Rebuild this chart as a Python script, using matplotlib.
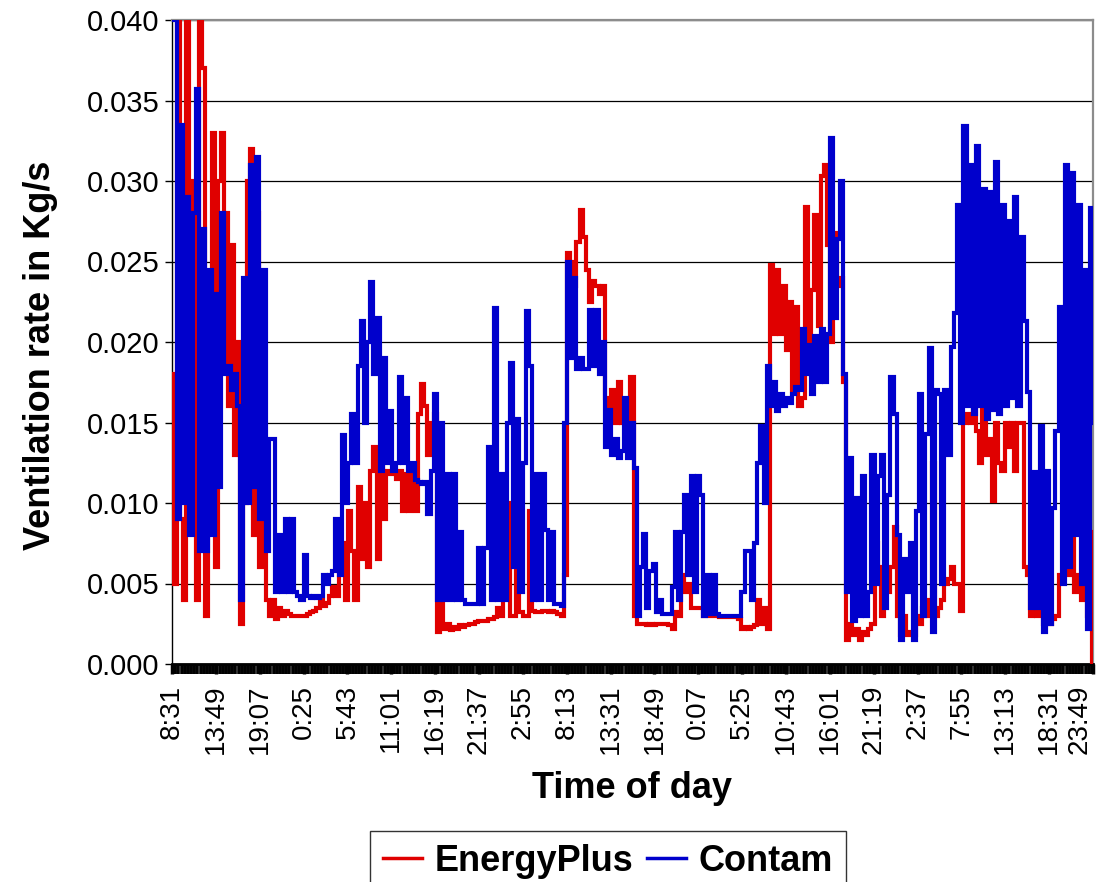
import numpy as np
import matplotlib
matplotlib.use("Agg")
import matplotlib.pyplot as plt
from matplotlib.ticker import FormatStrFormatter

plt.rcParams['font.family'] = ['Liberation Sans', 'DejaVu Sans']

# ---------------- data ----------------
step_minutes = 23          # sampling interval of the series (minutes)
span_minutes = 6678        # 8:31 day 1 -> 23:49 day 5

tick_labels = ['8:31', '13:49', '19:07', '0:25', '5:43', '11:01', '16:19', '21:37',
               '2:55', '8:13', '13:31', '18:49', '0:07', '5:25', '10:43', '16:01',
               '21:19', '2:37', '7:55', '13:13', '18:31', '23:49']
tick_spacing = 318         # minutes between labels

energyplus = [
    0.018, 0.005, 0.040, 0.009, 0.004, 0.040, 0.012, 0.030, 0.004, 0.040, 0.037, 0.003, 0.013, 0.033, 0.006, 0.030,
    0.033, 0.028, 0.016, 0.026, 0.013, 0.020, 0.0025, 0.010, 0.030, 0.032, 0.008, 0.028, 0.006, 0.013, 0.004, 0.003,
    0.0040, 0.0028, 0.0035, 0.0030, 0.0033, 0.0031, 0.0030, 0.0030, 0.0030, 0.0030, 0.0030, 0.0031, 0.0032, 0.0033, 0.0035, 0.0040,
    0.0036, 0.0038, 0.0042, 0.0048, 0.0042, 0.0060, 0.0075, 0.0040, 0.0095, 0.0070, 0.0040, 0.0110, 0.0065, 0.0100, 0.0060, 0.0120,
    0.0135, 0.0065, 0.0125, 0.0090, 0.0120, 0.0118, 0.0120, 0.0115, 0.0120, 0.0095, 0.0118, 0.0095, 0.0120, 0.0095, 0.0155, 0.0174,
    0.0160, 0.0130, 0.0150, 0.0155, 0.0020, 0.0070, 0.0022, 0.0025, 0.0021, 0.0023, 0.0022, 0.0024, 0.0023, 0.0024, 0.0025, 0.0025,
    0.0026, 0.0027, 0.0027, 0.0027, 0.0028, 0.0028, 0.0029, 0.0035, 0.0030, 0.0065, 0.0100, 0.0030, 0.0030, 0.0060, 0.0032, 0.0030,
    0.0030, 0.0095, 0.0033, 0.0032, 0.0032, 0.0033, 0.0033, 0.0032, 0.0033, 0.0032, 0.0031, 0.0030, 0.0055, 0.0255, 0.0250, 0.0235,
    0.0262, 0.0282, 0.0265, 0.0245, 0.0225, 0.0238, 0.0235, 0.0230, 0.0235, 0.0165, 0.0150, 0.0170, 0.0150, 0.0175, 0.0150, 0.0158,
    0.0150, 0.0178, 0.0030, 0.0025,
    0.0025, 0.0025, 0.0024, 0.0025, 0.0024, 0.0025, 0.0025, 0.0025, 0.0025, 0.0024, 0.0022, 0.0032, 0.0030, 0.0055, 0.0045, 0.0050,
    0.0035, 0.0035, 0.0035,
    0.0035, 0.0030, 0.0030, 0.0030, 0.0030, 0.0030, 0.0029, 0.0029, 0.0029, 0.0029, 0.0029, 0.0029, 0.0028, 0.0022, 0.0023, 0.0022,
    0.0023, 0.0024, 0.0040, 0.0025, 0.0035, 0.0022,
    0.0248, 0.0205, 0.0245, 0.0205, 0.0235, 0.0195, 0.0225, 0.0170, 0.0222, 0.0160, 0.0165, 0.0284, 0.0190, 0.0232, 0.0279, 0.0210,
    0.0303, 0.0310, 0.0260, 0.0200,
    0.0268, 0.0235, 0.0240, 0.0175, 0.0015, 0.0025, 0.0018, 0.0022, 0.0015, 0.0020, 0.0018, 0.0022, 0.0025, 0.0075, 0.0060, 0.0030,
    0.0055, 0.0045, 0.0060, 0.0085, 0.0030, 0.0018, 0.0030, 0.0018, 0.0020, 0.0018, 0.0030, 0.0025, 0.0035, 0.0030, 0.0040, 0.0125,
    0.0030, 0.0035, 0.0040, 0.0050, 0.0053, 0.0060, 0.0050, 0.0050, 0.0033,
    0.0150, 0.0155, 0.0150, 0.0187, 0.0145, 0.0125, 0.0185, 0.0130, 0.0140, 0.0101, 0.0150, 0.0125, 0.0120, 0.0150, 0.0135, 0.0150,
    0.0120, 0.0150, 0.0150, 0.0060, 0.0055, 0.0030, 0.0060, 0.0030, 0.0055, 0.0025, 0.0045, 0.0025, 0.0028, 0.0030, 0.0055, 0.0055,
    0.0125, 0.0055, 0.0085, 0.0045, 0.0055, 0.0040, 0.0050, 0.0030, 0.0082, 0.0000,
]

contam = [
    0.040, 0.040, 0.009, 0.0335, 0.010, 0.029, 0.008, 0.028, 0.0357, 0.007, 0.027, 0.007, 0.0245, 0.008, 0.023, 0.011,
    0.028, 0.018, 0.0185, 0.017, 0.018, 0.016, 0.004, 0.024, 0.010, 0.031, 0.011, 0.0315, 0.009, 0.0245, 0.007, 0.014,
    0.0140, 0.0045, 0.0080, 0.0045, 0.0090, 0.0045, 0.0090, 0.0045, 0.0042, 0.0040, 0.0068, 0.0042, 0.0041, 0.0042, 0.0041, 0.0042,
    0.0055, 0.0050, 0.0055, 0.0058, 0.0090, 0.0055, 0.0142, 0.0100, 0.0125, 0.0155, 0.0125, 0.0185, 0.0213, 0.0150, 0.0200, 0.0237,
    0.0180, 0.0215, 0.0120, 0.0190, 0.0125, 0.0157, 0.0120, 0.0125, 0.0178, 0.0125, 0.0165, 0.0120, 0.0125, 0.0114, 0.0113, 0.0112,
    0.0113, 0.0093, 0.0120, 0.0168, 0.0040, 0.0150, 0.0040, 0.0118, 0.0040, 0.0118, 0.0040, 0.0082, 0.0040, 0.0037, 0.0037, 0.0037,
    0.0037, 0.0072, 0.0037, 0.0072, 0.0135, 0.0040, 0.0221, 0.0040, 0.0118, 0.0040, 0.0150, 0.0187, 0.0060, 0.0152, 0.0045, 0.0125,
    0.0219, 0.0185, 0.0040, 0.0118, 0.0040, 0.0118, 0.0083, 0.0040, 0.0082, 0.0037, 0.0037, 0.0036, 0.0150, 0.0250, 0.0190, 0.0240,
    0.0183, 0.0190, 0.0183, 0.0183, 0.0220, 0.0185, 0.0220, 0.0180, 0.0200, 0.0135, 0.0158, 0.0130, 0.0140, 0.0128, 0.0132, 0.0165,
    0.0128, 0.0150, 0.0122, 0.0030,
    0.0060, 0.0081, 0.0035, 0.0058, 0.0062, 0.0032, 0.0040, 0.0031, 0.0031, 0.0031, 0.0048, 0.0082, 0.0040, 0.0082, 0.0105, 0.0055,
    0.0117, 0.0045, 0.0117,
    0.0105, 0.0030, 0.0055, 0.0031, 0.0055, 0.0031, 0.0030, 0.0030, 0.0030, 0.0030, 0.0030, 0.0030, 0.0030, 0.0045, 0.0070, 0.0070,
    0.0040, 0.0075, 0.0125, 0.0148, 0.0100, 0.0185,
    0.0160, 0.0175, 0.0157, 0.0168, 0.0160, 0.0165, 0.0162, 0.0168, 0.0172, 0.0170, 0.0208, 0.0180, 0.0198, 0.0168, 0.0204, 0.0175,
    0.0208, 0.0175, 0.0205, 0.0327,
    0.0215, 0.0264, 0.0300, 0.0180, 0.0045, 0.0128, 0.0027, 0.0103, 0.0030, 0.0117, 0.0030, 0.0045, 0.0130, 0.0050, 0.0117, 0.0130,
    0.0035, 0.0105, 0.0178, 0.0155, 0.0080, 0.0015, 0.0065, 0.0045, 0.0075, 0.0015, 0.0095, 0.0168, 0.0030, 0.0143, 0.0196, 0.0020,
    0.0170, 0.0168, 0.0050, 0.0170, 0.0130, 0.0197, 0.0218, 0.0285, 0.0150,
    0.0334, 0.0160, 0.0310, 0.0155, 0.0322, 0.0160, 0.0295, 0.0152, 0.0293, 0.0158, 0.0312, 0.0155, 0.0285, 0.0160, 0.0275, 0.0165,
    0.0290, 0.0160, 0.0265, 0.0213, 0.0169, 0.0035, 0.0119, 0.0035, 0.0148, 0.0020, 0.0120, 0.0025, 0.0097, 0.0145, 0.0222, 0.0050,
    0.0310, 0.0060, 0.0305, 0.0080, 0.0285, 0.0050, 0.0245, 0.0022, 0.0283, 0.0150,
]

# time stamps (minutes since 8:31 on day 1)
time_min = np.append(np.arange(len(energyplus) - 1) * step_minutes, span_minutes)
time_c = np.append(np.arange(len(contam) - 1) * step_minutes, span_minutes)

# ---------------- figure ----------------
W, H = 1097, 882
fig = plt.figure(figsize=(W / 100, H / 100), dpi=100)
ax = fig.add_axes([172 / W, 1 - 664 / H, (1093 - 172) / W, (664 - 20) / H])

red = '#E00000'
blue = '#0000CC'
l1, = ax.plot(time_min, energyplus, color=red, lw=3.0, drawstyle='steps-mid',
              solid_joinstyle='miter', zorder=3)
l2, = ax.plot(time_c, contam, color=blue, lw=3.0, drawstyle='steps-mid',
              solid_joinstyle='miter', zorder=4)

ax.set_xlim(0, span_minutes)
ax.set_ylim(0, 0.040)
ax.set_yticks(np.arange(0, 0.0401, 0.005))
ax.yaxis.set_major_formatter(FormatStrFormatter('%.3f'))
ax.set_xticks(np.arange(len(tick_labels)) * tick_spacing)
ax.set_xticklabels(tick_labels, rotation=90, ha='center', va='top')
ax.set_xticks(time_min, minor=True)

ax.grid(axis='y', color='black', lw=0.9, zorder=1)
ax.set_axisbelow(True)

for s in ['top', 'right']:
    ax.spines[s].set_color('#8c8c8c')
    ax.spines[s].set_linewidth(1.6)
ax.spines['left'].set_color('black')
ax.spines['left'].set_linewidth(1.0)
ax.spines['bottom'].set_color('black')
ax.spines['bottom'].set_linewidth(2.0)

ax.tick_params(axis='y', which='major', direction='out', length=5, width=1, labelsize=21, pad=4)
ax.tick_params(axis='x', which='major', direction='out', length=7, width=2.5, labelsize=20, pad=8)
ax.tick_params(axis='x', which='minor', direction='out', length=7, width=2.6, color='black')

# keep the last label inside the figure, as in the reference
ax.get_xticklabels()[-1].set_horizontalalignment('right')

fig.text(41 / W, 1 - 355 / H, 'Ventilation rate in Kg/s', rotation=90, ha='center', va='center',
         fontsize=26, fontweight='bold')
fig.text(632 / W, 1 - 798 / H, 'Time of day', ha='center', va='baseline',
         fontsize=26, fontweight='bold')

leg = fig.legend([l1, l2], ['EnergyPlus', 'Contam'], loc='upper center',
                 bbox_to_anchor=(608 / W, 1 - 831 / H), ncol=2, frameon=True, fancybox=False,
                 edgecolor='black', prop={'size': 26, 'weight': 'bold'},
                 handlelength=1.1, handletextpad=0.35, columnspacing=0.35,
                 borderpad=0.35, borderaxespad=0)
leg.get_frame().set_linewidth(1.0)
for h in leg.legend_handles:
    h.set_linewidth(2.5)

fig.savefig('out.png', dpi=100)
